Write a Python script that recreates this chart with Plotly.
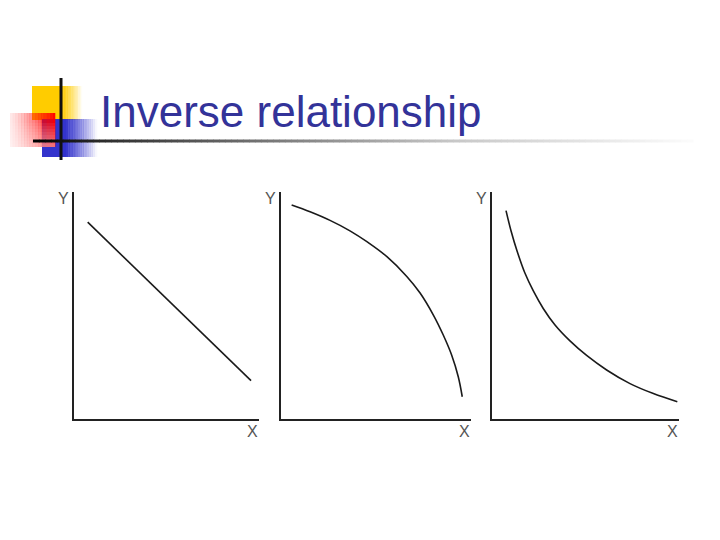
import plotly.graph_objects as go

W, H = 720, 540

# ---- data (axis units 0..10 in every panel) ----
linear_x = [0.74, 9.57]
linear_y = [8.67, 1.69]

concave_x = [0.56, 1.53, 2.58, 3.63, 4.54, 5.56, 6.62, 7.32, 8.02, 8.54, 8.98, 9.33, 9.54]
concave_y = [9.43, 9.13, 8.75, 8.29, 7.80, 7.16, 6.28, 5.55, 4.58, 3.70, 2.82, 1.86, 0.98]

convex_x = [0.75, 1.02, 1.34, 1.76, 2.21, 2.74, 3.37, 4.17, 5.06, 6.13, 7.38, 8.63, 9.91]
convex_y = [9.18, 8.28, 7.40, 6.43, 5.64, 4.87, 4.14, 3.44, 2.80, 2.16, 1.56, 1.12, 0.76]

TITLE = 'Inverse relationship'
X_LABEL = 'X'
Y_LABEL = 'Y'

# the page puts the plot 8px in from the corner
OFF = 8

def px(x):
    return (x - OFF) / W

def py(y):
    return 1 - (y - OFF) / H

# panel boxes in pixels: (left, right, top, bottom)
PANELS = [(74, 259, 192, 419), (281, 471, 192, 419), (492, 679, 192, 419)]
SERIES = [(linear_x, linear_y), (concave_x, concave_y), (convex_x, convex_y)]

fig = go.Figure()
shapes = []
annotations = []

label_font = dict(family='Liberation Sans', size=16, color='#555555')

for i, ((l, r, t, b), (xs, ys)) in enumerate(zip(PANELS, SERIES)):
    n = '' if i == 0 else str(i + 1)
    fig.add_trace(go.Scatter(
        x=xs, y=ys, mode='lines',
        line=dict(color='#1a1a1a', width=1.6, shape='spline', smoothing=1.0),
        xaxis='x' + n, yaxis='y' + n, showlegend=False, hoverinfo='skip'
    ))
    axis = dict(showline=True, linecolor='#222222', linewidth=2,
                showgrid=False, zeroline=False, showticklabels=False,
                ticks='', range=[0, 10], fixedrange=True)
    fig.update_layout(**{
        'xaxis' + n: dict(axis, domain=[px(l), px(r)], anchor='y' + n),
        'yaxis' + n: dict(axis, domain=[py(b), py(t)], anchor='x' + n),
    })
    annotations.append(dict(x=px(l - 11), y=py(199), xref='paper', yref='paper',
                            xanchor='center', yanchor='middle',
                            text=Y_LABEL, showarrow=False, font=label_font))
    annotations.append(dict(x=px(r - 7), y=py(431), xref='paper', yref='paper',
                            xanchor='center', yanchor='middle',
                            text=X_LABEL, showarrow=False, font=label_font))

# ---- slide decoration: logo blocks ----
def fade_rect(x0, x1, y0, y1, rgb, solid_to, steps=14):
    # solid block then fading to white towards the right
    out = [dict(type='rect', xref='paper', yref='paper', x0=px(x0), x1=px(solid_to),
                y0=py(y1), y1=py(y0), fillcolor='rgb(%d,%d,%d)' % rgb, line_width=0)]
    w = (x1 - solid_to) / steps
    for k in range(steps):
        a = 1 - (k + 0.5) / steps
        out.append(dict(type='rect', xref='paper', yref='paper',
                        x0=px(solid_to + k * w), x1=px(solid_to + (k + 1) * w + 0.3),
                        y0=py(y1), y1=py(y0),
                        fillcolor='rgba(%d,%d,%d,%.3f)' % (rgb + (a,)), line_width=0))
    return out

shapes += fade_rect(32, 82, 86, 120, (255, 204, 0), 62)
shapes += fade_rect(42, 97, 119, 157, (51, 51, 204), 66)

# red block: pale on the left, full red on the right
steps = 16
for k in range(steps):
    a = 0.08 + 0.92 * ((k + 0.5) / steps) ** 1.3
    w = (55 - 10) / steps
    shapes.append(dict(type='rect', xref='paper', yref='paper',
                       x0=px(10 + k * w), x1=px(10 + (k + 1) * w + 0.3),
                       y0=py(147), y1=py(113),
                       fillcolor='rgba(255,0,0,%.3f)' % a, line_width=0))
# white wash at bottom of red block
for k in range(8):
    shapes.append(dict(type='rect', xref='paper', yref='paper',
                       x0=px(10), x1=px(55), y0=py(147), y1=py(147 - (k + 1) * 3),
                       fillcolor='rgba(255,255,255,0.07)', line_width=0))

# gradient rule under the title
stops = [(33, 0), (100, 45), (300, 135), (450, 200), (690, 252)]
seg = 6
x = 33
while x < 690:
    for (a0, g0), (a1, g1) in zip(stops, stops[1:]):
        if a0 <= x <= a1:
            g = int(g0 + (g1 - g0) * (x - a0) / (a1 - a0))
            break
    shapes.append(dict(type='line', xref='paper', yref='paper',
                       x0=px(x), x1=px(x + seg + 0.5), y0=py(141), y1=py(141),
                       line=dict(color='rgb(%d,%d,%d)' % (g, g, g), width=3)))
    x += seg

# black cross of the logo
shapes.append(dict(type='line', xref='paper', yref='paper', x0=px(61), x1=px(61),
                   y0=py(160), y1=py(78), line=dict(color='#111111', width=3)))

annotations.append(dict(x=px(98), y=py(111), xref='paper', yref='paper',
                        xanchor='left', yanchor='middle', text=TITLE, showarrow=False,
                        font=dict(family='Liberation Sans', size=44, color='#333399')))

fig.update_layout(
    width=W, height=H,
    margin=dict(l=0, r=0, t=0, b=0),
    paper_bgcolor='white', plot_bgcolor='white',
    shapes=shapes, annotations=annotations,
    showlegend=False,
)

fig.write_html("out.html")
